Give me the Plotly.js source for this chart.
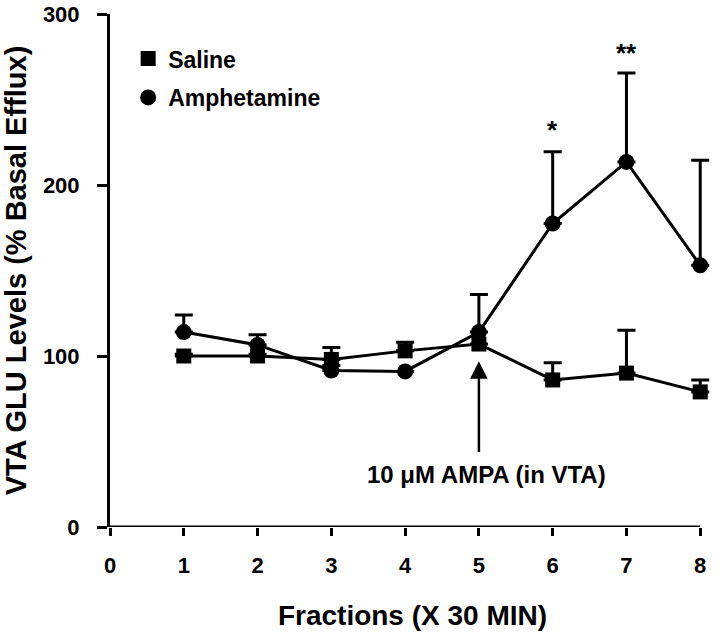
<!DOCTYPE html>
<html>
<head>
<meta charset="utf-8">
<script src="https://cdn.plot.ly/plotly-3.0.1.min.js"></script>
<style>
  html, body { margin: 0; padding: 0; background: #fff; }
  #chart { width: 720px; height: 632px; }
</style>
</head>
<body>
<div id="chart"></div>
<script>
    // Data
    const fractions = [1, 2, 3, 4, 5, 6, 7, 8];
    const salineMean = [100, 100, 98, 103, 107, 86, 90, 79];
    const salineErr = [1, 1, 7, 5, 0, 10, 25, 7];
    const amphMean = [114, 106.5, 91.5, 91, 114, 177.5, 213.5, 153];
    const amphErr = [10, 6, 3, 0, 22, 42, 52, 61.5];
    const xTicks = [0, 1, 2, 3, 4, 5, 6, 7, 8];
    const yTicks = [0, 100, 200, 300];

    const font = { family: 'Liberation Sans, Arial, sans-serif', color: '#000', weight: 'bold' };
    const zeros = fractions.map(() => 0);

    function errorBars(arr) {
        return {
            type: 'data', symmetric: false, array: arr, arrayminus: zeros,
            color: '#000', thickness: 3, width: 9
        };
    }

    const traces = [
        {
            x: fractions, y: salineMean, type: 'scatter', mode: 'lines+markers',
            line: { color: '#000', width: 3 },
            marker: { symbol: 'square', size: 15, color: '#000' },
            error_y: errorBars(salineErr),
            cliponaxis: false, showlegend: false
        },
        {
            x: fractions, y: amphMean, type: 'scatter', mode: 'lines+markers',
            line: { color: '#000', width: 3 },
            marker: { symbol: 'circle', size: 16, color: '#000' },
            error_y: errorBars(amphErr),
            cliponaxis: false, showlegend: false
        },
        // legend entries (markers only)
        {
            x: [null], y: [null], type: 'scatter', mode: 'markers', name: 'Saline',
            marker: { symbol: 'square', size: 15, color: '#000' }, legendgroup: 'a'
        },
        {
            x: [null], y: [null], type: 'scatter', mode: 'markers', name: 'Amphetamine',
            marker: { symbol: 'circle', size: 16, color: '#000' }, legendgroup: 'b'
        }
    ];

    const layout = {
        width: 720, height: 632,
        margin: { l: 110, r: 5, t: 14, b: 105 },
        paper_bgcolor: '#fff', plot_bgcolor: '#fff',
        font: font,
        showlegend: true,
        legend: {
            x: 0.03, y: 0.955, xanchor: 'left', yanchor: 'top',
            font: Object.assign({}, font, { size: 23 }),
            tracegroupgap: 6, bgcolor: 'rgba(0,0,0,0)'
        },
        xaxis: {
            // a little room past 8 so the last error bars are not clipped
            range: [0, 8.2], tickvals: xTicks, ticktext: xTicks.map(String),
            showline: false,
            ticks: 'outside', ticklen: 8, tickwidth: 3, tickcolor: '#000',
            showgrid: false, zeroline: false,
            tickfont: Object.assign({}, font, { size: 22 }),
            ticklabelstandoff: 11,
            title: { text: 'Fractions (X 30 MIN)', font: Object.assign({}, font, { size: 28 }), standoff: 27 }
        },
        yaxis: {
            range: [0, 300], tickvals: yTicks, ticktext: yTicks.map(String),
            showline: true, linecolor: '#000', linewidth: 3,
            ticks: 'outside', ticklen: 10, tickwidth: 3, tickcolor: '#000',
            showgrid: false, zeroline: false,
            tickfont: Object.assign({}, font, { size: 22 }),
            ticklabelstandoff: 13,
            title: { text: 'VTA GLU Levels (% Basal Efflux)', font: Object.assign({}, font, { size: 29 }), standoff: 14 }
        },
        shapes: [
            // x axis line ends at fraction 8
            { type: 'line', xref: 'x', yref: 'y', x0: 0, x1: 8, y0: 0, y1: 0,
              line: { color: '#000', width: 3 } }
        ],
        annotations: [
            {
                x: 5, y: 97, xref: 'x', yref: 'y',
                ax: 5, ay: 43, axref: 'x', ayref: 'y',
                text: '', showarrow: true, arrowhead: 2, arrowsize: 1.4,
                arrowwidth: 2.5, arrowcolor: '#000'
            },
            {
                x: 5.1, y: 30.5, xref: 'x', yref: 'y', showarrow: false,
                text: '10 \u03bcM AMPA (in VTA)',
                font: Object.assign({}, font, { size: 24 })
            },
            {
                x: 6, y: 232, xref: 'x', yref: 'y', showarrow: false,
                text: '*', font: Object.assign({}, font, { size: 26 })
            },
            {
                x: 7, y: 277, xref: 'x', yref: 'y', showarrow: false,
                text: '**', font: Object.assign({}, font, { size: 26 })
            }
        ]
    };

    Plotly.newPlot('chart', traces, layout, { displayModeBar: false, staticPlot: true });
</script>
</body>
</html>
